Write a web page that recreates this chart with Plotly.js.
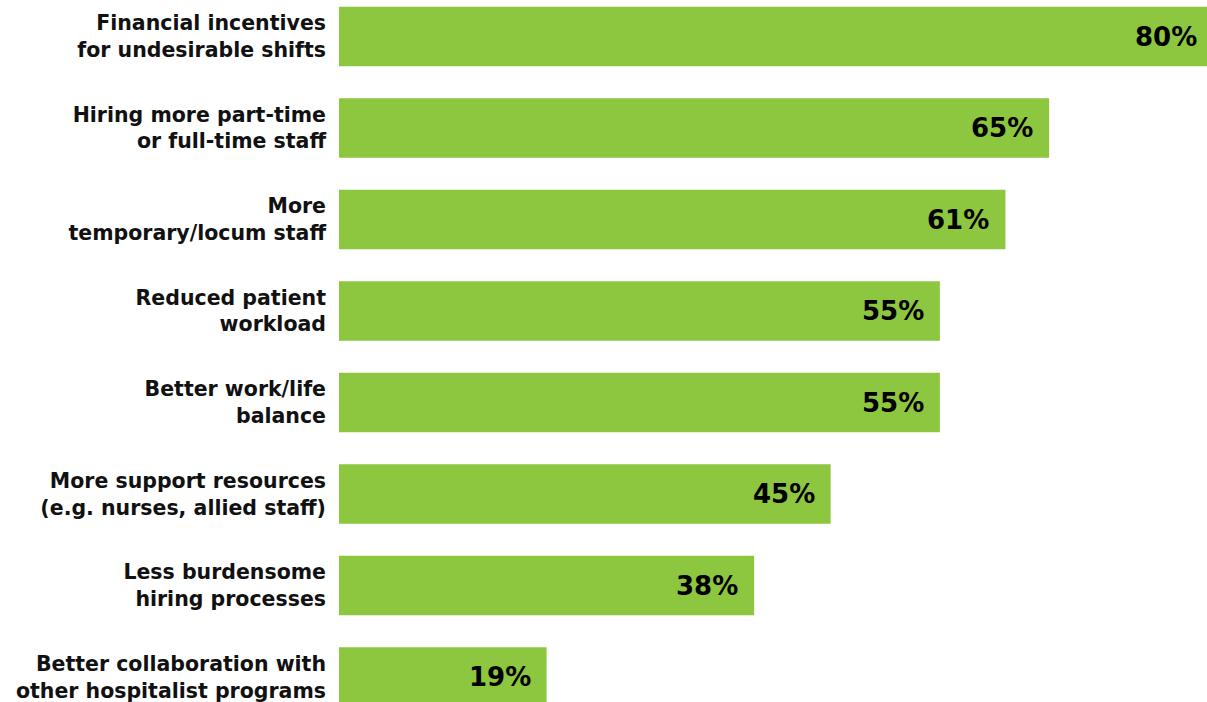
<!DOCTYPE html>
<html>
<head>
<meta charset="utf-8">
<script src="https://cdn.plot.ly/plotly-3.0.1.min.js"></script>
<style>html,body{margin:0;padding:0;background:#fff;overflow:hidden;}#chart{width:1213px;height:702px;}</style>
</head>
<body>
<div id="chart"></div>
<script>
const categories = [
  "Financial incentives<br>for undesirable shifts",
  "Hiring more part-time<br>or full-time staff",
  "More<br>temporary/locum staff",
  "Reduced patient<br>workload",
  "Better work/life<br>balance",
  "More support resources<br>(e.g. nurses, allied staff)",
  "Less burdensome<br>hiring processes",
  "Better collaboration with<br>other hospitalist programs"
];
const values = [80, 65, 61, 55, 55, 45, 38, 19];
const valueLabels = values.map(v => v + "%");

const trace = {
  type: "bar",
  orientation: "h",
  y: categories,
  x: values,
  marker: {color: "#8DC63F"},
  width: 0.65,
  hoverinfo: "none"
};

const annotations = values.map((v, i) => ({
  x: v,
  y: categories[i],
  xref: "x",
  yref: "y",
  text: valueLabels[i],
  showarrow: false,
  xanchor: "right",
  yanchor: "middle",
  xshift: -14,
  font: {family: "DejaVu Sans", size: 26, color: "#000000", weight: 700}
}));

const layout = {
  width: 1213,
  height: 702,
  margin: {l: 339, r: 0, t: 0, b: 0, pad: 0},
  paper_bgcolor: "#ffffff",
  plot_bgcolor: "#ffffff",
  showlegend: false,
  annotations: annotations,
  xaxis: {range: [0, 80], visible: false, fixedrange: true},
  yaxis: {
    type: "category",
    categoryorder: "array",
    categoryarray: categories,
    range: [7.273, -0.399],
    showgrid: false,
    zeroline: false,
    showline: false,
    ticks: "",
    ticklabelstandoff: 12,
    tickfont: {family: "DejaVu Sans", size: 20.5, color: "#111111", weight: 700}
  }
};

Plotly.newPlot("chart", [trace], layout, {displayModeBar: false, staticPlot: true});
</script>
</body>
</html>
